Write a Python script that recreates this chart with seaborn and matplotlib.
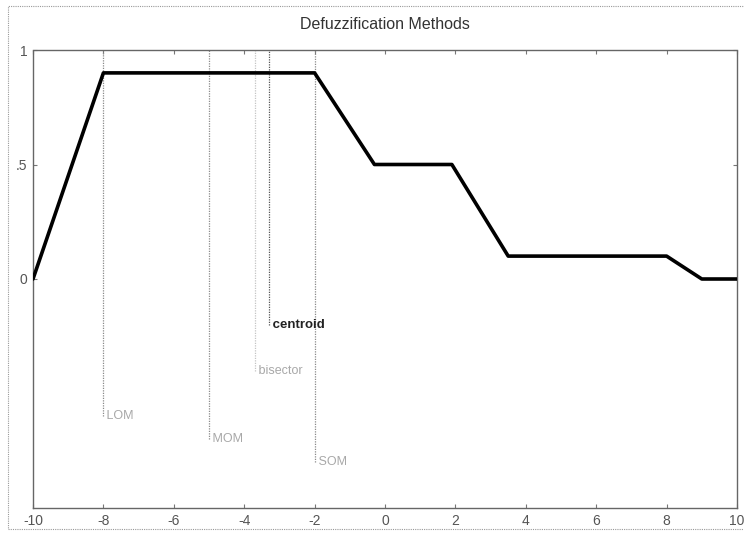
import matplotlib
matplotlib.use("Agg")
import matplotlib.pyplot as plt
import pandas as pd
import seaborn as sns
from matplotlib.patches import Rectangle

# Aggregated membership function (breakpoints of the piecewise-linear curve)
x_break = [-10, -8, -2, -0.3, 1.9, 3.5, 8, 9, 10]
mu_break = [0, 0.9, 0.9, 0.5, 0.5, 0.1, 0.1, 0, 0]

# Defuzzified values and the heights where their labels sit
method_names = ["centroid", "bisector", "MOM", "SOM", "LOM"]
method_x = [-3.3, -3.7, -5.0, -2.0, -8.0]
label_y = [-0.2, -0.4, -0.7, -0.8, -0.6]

x_ticks = list(range(-10, 11, 2))
y_ticks = [0, 0.5, 1]
y_tick_labels = ["0", ".5", "1"]

sns.set_style("ticks")
plt.rcParams["font.family"] = ["Liberation Sans", "DejaVu Sans"]

fig = plt.figure(figsize=(7.44, 5.33), dpi=100)
ax = fig.add_axes([33 / 744, 1 - 508 / 533, 704 / 744, 458 / 533])

df = pd.DataFrame({"x": x_break, "mu": mu_break})
sns.lineplot(data=df, x="x", y="mu", ax=ax, color="black", linewidth=2.6,
             sort=False, zorder=3)

line_colors = {"centroid": "#555555", "bisector": "#c4c4c4"}
for name, xv, ly in zip(method_names, method_x, label_y):
    ax.vlines(xv, ly, 1.2, colors=line_colors.get(name, "#8a8a8a"),
              linewidth=0.9, linestyles=(0, (1, 1)), zorder=2)
    if name == "centroid":
        ax.text(xv, ly, " " + name, fontsize=9.5, fontweight="bold",
                color="#222222", va="center", ha="left")
    else:
        ax.text(xv, ly, " " + name, fontsize=9, color="#a8a8a8",
                va="center", ha="left")

ax.set_xlim(-10, 10)
ax.set_ylim(-1, 1)
ax.set_xticks(x_ticks)
ax.set_xticklabels([str(t) for t in x_ticks])
ax.set_yticks(y_ticks)
ax.set_yticklabels(y_tick_labels)
ax.set_xlabel("")
ax.set_ylabel("")
ax.tick_params(direction="in", length=3, width=0.8, colors="#777777",
               labelcolor="#555555", labelsize=10, top=True, right=True, pad=4)
for sp in ax.spines.values():
    sp.set_visible(True)
    sp.set_color("#666666")
    sp.set_linewidth(1.0)
    sp.set_linestyle((0, (1, 1)))

ax.set_title("Defuzzification Methods", fontsize=11.5, color="#333333", pad=15)

# light frame around the whole figure
fig.patches.append(Rectangle((8 / 744, 4 / 533), 740 / 744, 523 / 533,
                             transform=fig.transFigure, fill=False,
                             edgecolor="#999999", linewidth=0.8,
                             linestyle=(0, (1, 1))))

fig.savefig("out.png", dpi=100)
